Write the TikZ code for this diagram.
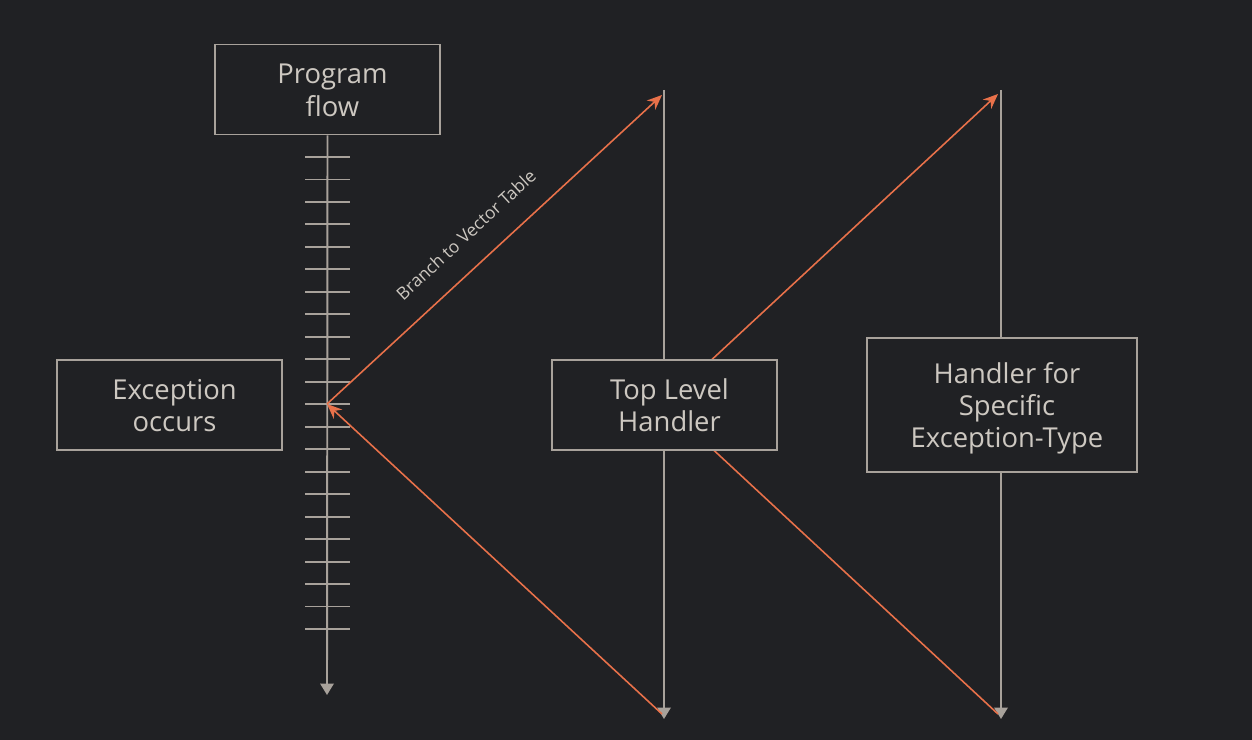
\documentclass[tikz,border=0pt]{standalone}
\usepackage{fontspec}
\setmainfont{Open Sans}
\usetikzlibrary{arrows.meta}

\definecolor{fond}{HTML}{202124}
\definecolor{trait}{HTML}{A8A29B}
\definecolor{texte}{HTML}{CDC8C1}
\definecolor{orange}{HTML}{E8714A}

% texte des boîtes, un peu décalé vers la droite et vers le bas
\newcommand\lignes[1]{\raisebox{-0.08cm}[\height][\depth]{\begin{tabular}{@{\hspace{0.2cm}}c@{}}#1\end{tabular}}}

\tikzset{
  boite/.style={draw=trait, line width=1.1pt, fill=fond, text=texte,
    font=\fontsize{15.6}{18.4}\selectfont, inner sep=0pt},
  axe/.style={draw=trait, line width=1.1pt, -{Triangle[width=0.27cm,length=0.23cm]}},
  graduation/.style={draw=trait, line width=1.1pt},
  saut/.style={draw=orange, line width=0.9pt}
}

\begin{document}
\begin{tikzpicture}[x=0.02cm, y=-0.02cm, >={Stealth[length=0.3cm,width=0.25cm]}]
  % fond et cadre
  \fill[fond] (0,0) rectangle (1252,740);
  \useasboundingbox (0,0) rectangle (1252,740);
  % positions (en pixels de la figure)
  \def\xa{327}    % axe du programme
  \def\xb{664}    % axe du gestionnaire général
  \def\xc{1001}   % axe du gestionnaire spécifique
  \def\yexc{404}  % instant de l'exception
  \coordinate (exc) at (\xa,\yexc);
  \coordinate (hautB) at (\xb,90);
  \coordinate (basB) at (\xb,719);
  \coordinate (hautC) at (\xc,90);
  \coordinate (basC) at (\xc,719);
  \coordinate (milB) at (\xb,\yexc);
  % extrémités des sauts (juste à gauche des axes)
  \coordinate (versB) at (662,95);
  \coordinate (depuisB) at (662,714);
  \coordinate (versC) at (998,94);
  \coordinate (finC) at (998,714);
  % flot du programme
  \node[boite, minimum width=4.5cm, minimum height=1.8cm] (flow) at (327.5,89.5) {\lignes{Program\\flow}};
  \draw[axe] (flow.south) -- (\xa,695);
  \foreach \i in {0,...,21}
    \draw[graduation] (305,157+22.476*\i) -- (350,157+22.476*\i);
  % axes des gestionnaires
  \draw[axe] (hautB) -- (basB);
  \draw[axe] (hautC) -- (basC);
  % sauts
  \draw[saut,->] (exc) -- (versB) node[pos=0.476, sloped, above=0.34cm, text=texte,
    font=\fontsize{9.9}{11}\selectfont] {Branch to Vector Table};
  \draw[saut,->] (depuisB) -- (exc);
  \draw[saut,->] (milB) -- (versC);
  \draw[saut] (milB) -- (finC);
  % boîtes
  \node[boite, minimum width=4.5cm, minimum height=1.8cm] (exception) at (169.5,405) {\lignes{Exception\\occurs}};
  \node[boite, minimum width=4.5cm, minimum height=1.8cm] (top) at (664.5,405) {\lignes{Top Level\\Handler}};
  \node[boite, minimum width=5.4cm, minimum height=2.68cm] (specific) at (1002,405) {\lignes{Handler for\\Specific\\Exception-Type}};
\end{tikzpicture}
\end{document}
